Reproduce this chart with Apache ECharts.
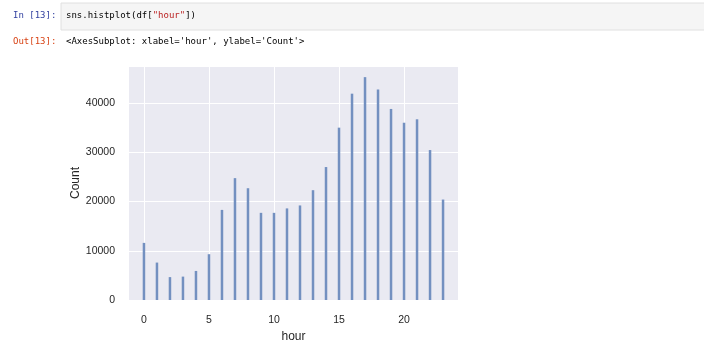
<!DOCTYPE html>
<html>
<head>
<meta charset="utf-8">
<script src="https://cdn.jsdelivr.net/npm/echarts@6/dist/echarts.min.js"></script>
<style>html,body{margin:0;padding:0;background:#fff;}#c{width:704px;height:342px;}</style>
</head>
<body>
<div id="c"></div>
<script>
const hours = [0,1,2,3,4,5,6,7,8,9,10,11,12,13,14,15,16,17,18,19,20,21,22,23];
const counts = [11600,7600,4650,4750,5900,9300,18300,24750,22700,17700,17700,18600,19200,22300,27000,35000,41900,45260,42750,38800,36000,36700,30450,20400];
const xTicks = [0,5,10,15,20];
const yTicks = [0,10000,20000,30000,40000];

const chart = echarts.init(document.getElementById('c'), null, {renderer:'canvas'});
const mono = '"DejaVu Sans Mono", "Liberation Mono", monospace';
const sans = '"Liberation Sans", Arial, sans-serif';
chart.setOption({
  backgroundColor: '#ffffff',
  animation: false,
  graphic: [
    {type:'rect', shape:{x:61, y:3, width:660, height:27}, style:{fill:'#f5f5f5', stroke:'#e0e0e0', lineWidth:1}},
    {type:'text', x:13, y:16, style:{text:'In [13]:', fill:'#303f9f', font:'9px '+mono, verticalAlign:'middle'}},
    {type:'text', x:66, y:16, style:{text:'{a|sns.histplot(df[}{s|"hour"}{a|])}', verticalAlign:'middle',
      rich:{a:{fill:'#000', font:'9px '+mono}, s:{fill:'#ba2121', font:'9px '+mono}}}},
    {type:'text', x:13, y:42, style:{text:'Out[13]:', fill:'#d84315', font:'9px '+mono, verticalAlign:'middle'}},
    {type:'text', x:66, y:42, style:{text:"<AxesSubplot: xlabel='hour', ylabel='Count'>", fill:'#000', font:'9px '+mono, verticalAlign:'middle'}}
  ],
  grid: {left:129, top:66, width:329, height:234, backgroundColor:'#eaeaf2', show:true, borderWidth:0,
    containLabel:false, outerBoundsMode:'none'},
  xAxis: {
    type:'value', min:-1.15, max:24.15,
    name:'hour', nameLocation:'middle', nameGap:31,
    nameTextStyle:{color:'#262626', fontSize:12, fontFamily:sans},
    axisLine:{show:false},
    axisTick:{show:false, customValues: xTicks},
    axisLabel:{customValues: xTicks, color:'#262626', fontSize:10.5, fontFamily:sans, margin:15},
    splitLine:{show:true, lineStyle:{color:'#ffffff', width:1}}
  },
  yAxis: {
    type:'value', min:0, max:47520, interval:10000,
    name:'Count', nameLocation:'middle', nameGap:47,
    nameTextStyle:{color:'#262626', fontSize:12, fontFamily:sans},
    axisLine:{show:false}, axisTick:{show:false},
    axisLabel:{color:'#262626', fontSize:10.5, fontFamily:sans, margin:14,
      formatter: v => yTicks.includes(v) ? String(v) : ''},
    splitLine:{show:true, lineStyle:{color:'#ffffff', width:1}}
  },
  series: [{
    type:'bar', barWidth:2.5,
    data: hours.map((h,i)=>[h, counts[i]]),
    itemStyle:{color:'#7390c0'}
  }]
});
</script>
</body>
</html>
